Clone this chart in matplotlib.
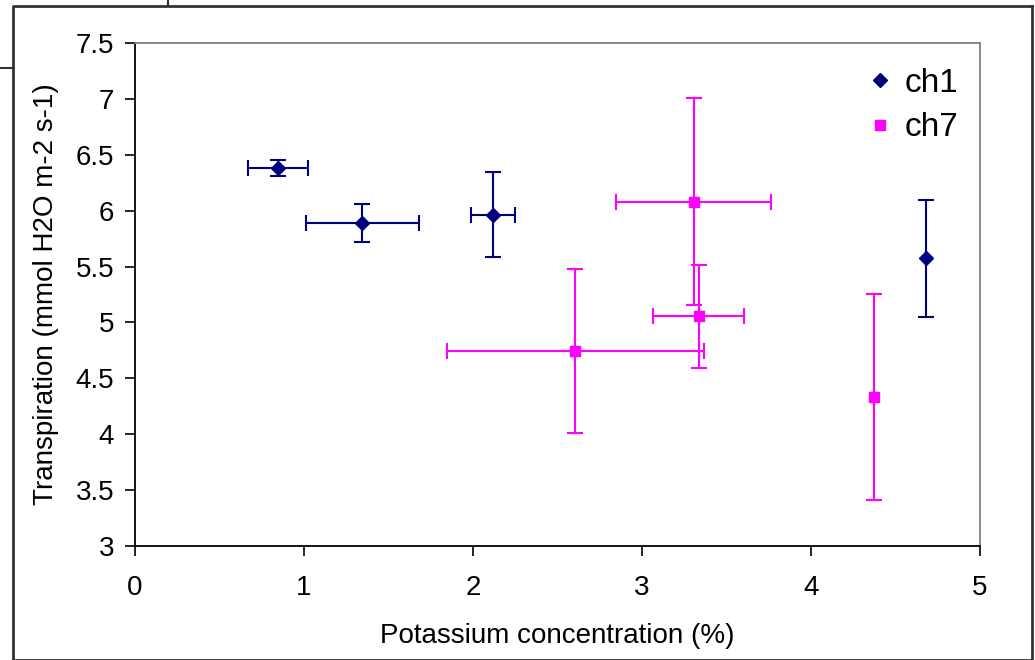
import matplotlib
matplotlib.use("Agg")
import matplotlib.pyplot as plt
from matplotlib.lines import Line2D

plt.rcParams["font.family"] = ["Liberation Sans", "DejaVu Sans"]

# ch1 series
ch1_x = [0.845, 1.345, 2.12, 4.68]
ch1_y = [6.38, 5.89, 5.965, 5.575]
ch1_xerr = [0.177, 0.333, 0.131, 0.0]
ch1_yerr = [0.07, 0.171, 0.379, 0.525]

# ch7 series
ch7_x = [3.305, 3.335, 2.605, 4.375]
ch7_y = [6.08, 5.057, 4.747, 4.335]
ch7_xerr = [0.456, 0.268, 0.76, 0.0]
ch7_yerr = [0.925, 0.46, 0.733, 0.92]

xticks = [0, 1, 2, 3, 4, 5]
yticks = [3, 3.5, 4, 4.5, 5, 5.5, 6, 6.5, 7, 7.5]
ytick_labels = ["3", "3.5", "4", "4.5", "5", "5.5", "6", "6.5", "7", "7.5"]

fig = plt.figure(figsize=(10.35, 6.6), dpi=100)
ax = fig.add_axes([0.1304, 0.1727, 0.8165, 0.7621])

ax.errorbar(ch1_x, ch1_y, xerr=ch1_xerr, yerr=ch1_yerr, fmt="D", color="#000080",
            markersize=7.5, elinewidth=1.5, capsize=6, capthick=1.5, label="ch1", zorder=3)
ax.errorbar(ch7_x, ch7_y, xerr=ch7_xerr, yerr=ch7_yerr, fmt="s", color="#FF00FF",
            markersize=7.5, elinewidth=1.5, capsize=6, capthick=1.5, label="ch7", zorder=2)

ax.set_xlim(0, 5)
ax.set_ylim(3, 7.5)
ax.set_xticks(xticks)
ax.set_yticks(yticks)
ax.set_yticklabels(ytick_labels)
ax.tick_params(direction="out", length=7, width=1.2, labelsize=20)
ax.tick_params(axis="x", pad=14)
ax.tick_params(axis="y", pad=8)

ax.spines["left"].set_color("black")
ax.spines["bottom"].set_color("black")
ax.spines["left"].set_linewidth(1.3)
ax.spines["bottom"].set_linewidth(1.3)
ax.spines["top"].set_color("#808080")
ax.spines["right"].set_color("#808080")
ax.spines["top"].set_linewidth(1.3)
ax.spines["right"].set_linewidth(1.3)

ax.set_xlabel("Potassium concentration (%)", fontsize=20, labelpad=16)
ax.set_ylabel("Transpiration (mmol H2O m-2 s-1)", fontsize=20, labelpad=12)

handles, labels = ax.get_legend_handles_labels()
handles = [h[0] for h in handles]
ax.legend(handles, labels, loc="upper right", bbox_to_anchor=(1.01, 1.01),
          frameon=False, fontsize=24, handlelength=0.6, handletextpad=0.45,
          labelspacing=0.4)

# outer frame of the pasted chart
W, H = 1035.0, 660.0
frame = "#333333"
fig.add_artist(Line2D([13 / W, 1032 / W, 1032 / W], [0, 0, 1 - 6 / H], transform=fig.transFigure,
                      color=frame, lw=2))
fig.add_artist(Line2D([13 / W, 13 / W, 1032 / W], [0, 1 - 6 / H, 1 - 6 / H], transform=fig.transFigure,
                      color=frame, lw=2))
fig.add_artist(Line2D([168 / W, 168 / W], [1 - 6 / H, 1], transform=fig.transFigure, color=frame, lw=1.5))
fig.add_artist(Line2D([0, 13 / W], [1 - 68 / H, 1 - 68 / H], transform=fig.transFigure, color=frame, lw=1.5))

fig.savefig("out.png", dpi=100)
